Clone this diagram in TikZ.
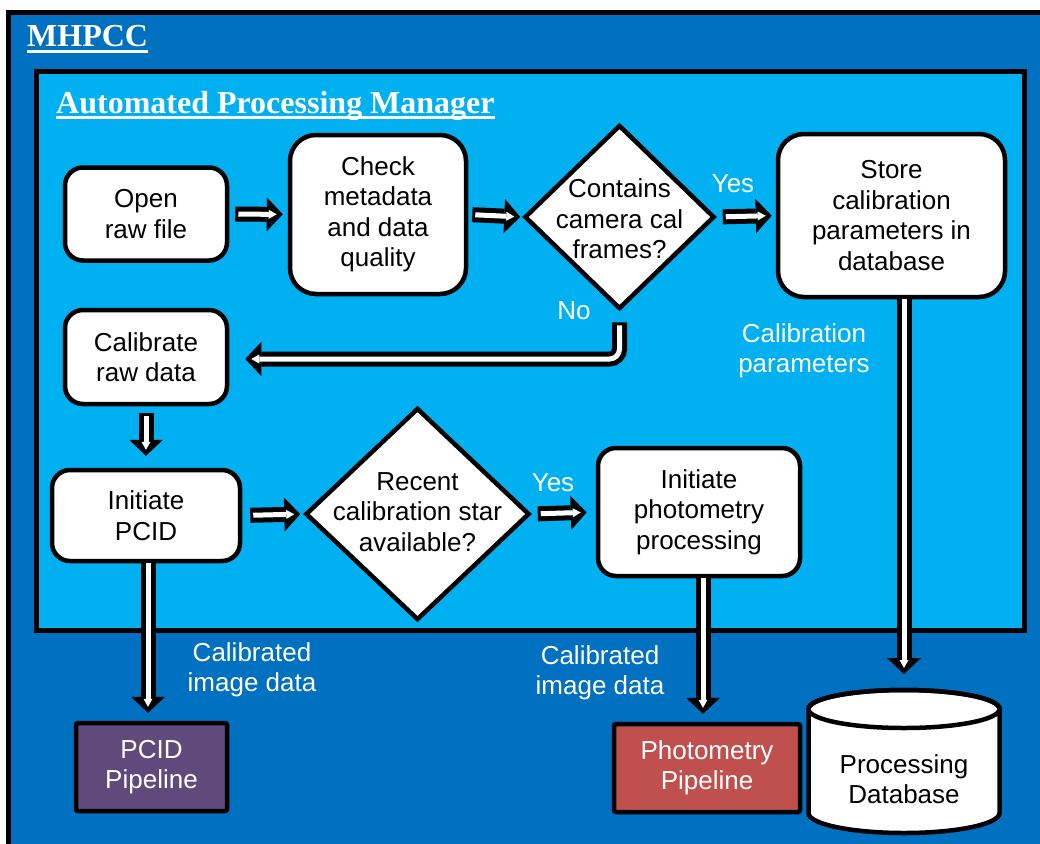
\documentclass[tikz,border=0pt]{standalone}
\usepackage{fontspec}
\setmainfont{Liberation Sans}
\newfontfamily\titlefont{Liberation Serif}
\usetikzlibrary{shapes.geometric,arrows.meta,calc}
\definecolor{outerblue}{HTML}{0070C0}
\definecolor{innerblue}{HTML}{00B0F0}
\definecolor{pcidpurple}{HTML}{604A7B}
\definecolor{photred}{HTML}{C0504D}
\tikzset{
 box/.style={draw=black, line width=4.5pt, fill=white, rounded corners=18pt, inner sep=0pt, align=center, font=\fontsize{26}{30.5}\selectfont},
 bigbox/.style={box, rounded corners=26pt},
 decision/.style={diamond, draw=black, line width=4.5pt, fill=white, inner sep=0pt},
 dtext/.style={align=center, inner sep=0pt, font=\fontsize{26}{30.5}\selectfont},
 pipe/.style={draw=black, line width=4.5pt, rounded corners=2pt, inner sep=0pt, align=center, text=white, font=\fontsize{26}{30.5}\selectfont},
 lbl/.style={text=white, align=center, inner sep=0pt, font=\fontsize{26}{30.5}\selectfont},
 title/.style={text=white, inner sep=0pt, anchor=base west, font=\titlefont\bfseries\fontsize{32}{36}\selectfont},
 arrblack/.style={draw=black, line width=15pt, -{Triangle[length=16pt,width=34pt,line width=0pt]}},
 arrwhite/.style={draw=white, line width=5pt, -{Triangle[length=8pt,width=9pt,line width=0pt]}},
}
% #1 start shorten, #2 end shorten (black); #3, #4 same for white core; #5 path
\newcommand\blockarrow[5]{%
 \draw[arrblack, shorten <=#1, shorten >=#2] #5;
 \draw[arrwhite, shorten <=#3, shorten >=#4] #5;}
\begin{document}
\begin{tikzpicture}[x=1pt, y=-1pt]
\clip (0,0) rectangle (1040,843);
\fill[white] (0,0) rectangle (1040,843);
% panels
\draw[fill=outerblue, line width=5pt] (8.5,12.5) rectangle (1070,870);
\draw[fill=innerblue, line width=5pt] (36.5,71.5) rectangle (1024.5,630);
% titles
\node[title] (mh) at (27,47) {MHPCC};
\draw[white, line width=3pt] ($(mh.base west)+(0,4.5)$) -- ($(mh.base east)+(0,4.5)$);
\node[title] (apm) at (56,113) {Automated Processing Manager};
\draw[white, line width=3pt] ($(apm.base west)+(0,4.5)$) -- ($(apm.base east)+(0,4.5)$);
% process nodes
\node[box, minimum width=162pt, minimum height=93pt] (open) at (146,214) {Open\\raw file};
\node[bigbox, minimum width=176pt, minimum height=159pt] (check) at (378,214.5) {Check\\metadata\\and data\\quality};
\node[decision, minimum width=190pt, minimum height=184pt] (d1) at (619.5,217) {};
\node[dtext] (d1t) at (619.5,219) {Contains\\camera cal\\frames?};
\node[bigbox, minimum width=227pt, minimum height=163pt] (store) at (891.5,215.5) {Store\\calibration\\parameters in\\database};
\node[box, minimum width=162pt, minimum height=94pt] (cal) at (146,357) {Calibrate\\raw data};
\node[box, minimum width=188pt, minimum height=91pt] (pcid) at (146,515.5) {Initiate\\PCID};
\node[decision, minimum width=224pt, minimum height=212pt] (d2) at (417.5,514) {};
\node[dtext] (d2t) at (417.5,512) {Recent\\calibration star\\available?};
\node[box, minimum width=202pt, minimum height=128pt] (phot) at (699,512) {Initiate\\photometry\\processing};
\node[pipe, fill=pcidpurple, minimum width=151pt, minimum height=88pt] (pcidpipe) at (151.5,767) {PCID\\Pipeline};
\node[pipe, fill=photred, minimum width=186pt, minimum height=88pt] (photpipe) at (707,768) {Photometry\\Pipeline};
% database cylinder
\draw[fill=white, line width=4.5pt] (808.5,709) -- (808.5,813) arc[start angle=180, end angle=0, x radius=95.5, y radius=20] -- (999.5,709) arc[start angle=0, end angle=-180, x radius=95.5, y radius=19] -- cycle;
\draw[line width=4.5pt] (904,709) ellipse[x radius=95.5, y radius=19];
\coordinate (dbtop) at (904,690);
\node[dtext] (db) at (904,779) {Processing\\Database};
% arrows
\blockarrow{6pt}{5pt}{9pt}{11pt}{(open) -- (check)}
\blockarrow{4pt}{2pt}{7pt}{8pt}{(check.east) -- (d1.west)}
\blockarrow{6pt}{4pt}{9pt}{10pt}{(d1.east) -- (store.west)}
\coordinate (nobend) at (619.5,359);
\blockarrow{11pt}{16pt}{14pt}{22pt}{(d1.south) [rounded corners=10pt] -- (nobend) -- (nobend -| cal.east)}
\blockarrow{7pt}{12pt}{10pt}{18pt}{(cal.south) -- (pcid.north)}
\blockarrow{8pt}{3pt}{11pt}{9pt}{(pcid.east) -- (d2.west)}
\blockarrow{6pt}{9pt}{9pt}{15pt}{(d2.east) -- (phot.west)}
\blockarrow{0pt}{8pt}{0pt}{14pt}{([xshift=2pt]pcid.south) -- ([xshift=2pt]pcid.south |- pcidpipe.north)}
\blockarrow{0pt}{8pt}{0pt}{14pt}{([xshift=4pt]phot.south) -- ([xshift=4pt]phot.south |- photpipe.north)}
\blockarrow{0pt}{16pt}{0pt}{22pt}{(store.south -| dbtop) -- (dbtop)}
% labels
\node[lbl] (yes1) at (733,184) {Yes};
\node[lbl] (no1) at (574,311) {No};
\node[lbl] (calp) at (804,351) {Calibration\\parameters};
\node[lbl] (yes2) at (553,483) {Yes};
\node[lbl] (cid1) at (252,670) {Calibrated\\image data};
\node[lbl] (cid2) at (600,673) {Calibrated\\image data};
\end{tikzpicture}
\end{document}
